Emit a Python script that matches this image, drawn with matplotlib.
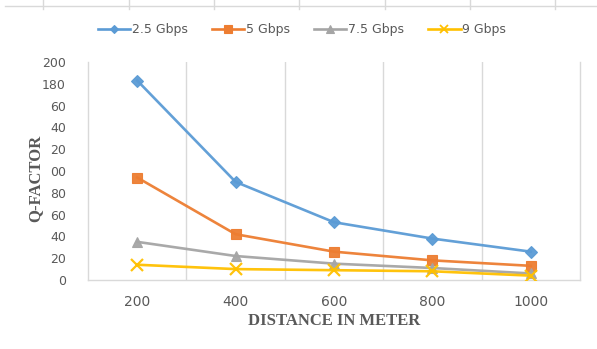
import matplotlib
matplotlib.use("Agg")
import matplotlib.pyplot as plt
from matplotlib.lines import Line2D

distances = ["200", "400", "600", "800", "1000"]
series_names = ["2.5 Gbps", "5 Gbps", "7.5 Gbps", "9 Gbps"]
q_25 = [183, 90, 53, 38, 26]
q_5 = [94, 42, 26, 18, 13]
q_75 = [35, 22, 15, 11, 6]
q_9 = [14, 10, 9, 8, 4]
y_ticks = [0, 20, 40, 60, 80, 100, 120, 140, 160, 180, 200]
y_tick_labels = ["0", "20", "40", "60", "80", "00", "20", "40", "60", "180", "200"]

colors = ["#5B9BD5", "#ED7D31", "#A5A5A5", "#FFC000"]
markers = ["D", "s", "^", "x"]
msizes = [6, 7, 7, 8]
text_gray = "#595959"
grid_gray = "#D9D9D9"

fig = plt.figure(figsize=(5.97, 3.49), dpi=100)
ax = fig.add_axes([88 / 597, 1 - 280 / 349, (580 - 88) / 597, (280 - 62) / 349])

x = list(range(len(distances)))
for vals, c, m, ms, name in zip([q_25, q_5, q_75, q_9], colors, markers, msizes, series_names):
    mew = 1.6 if m == "x" else 0.8
    ax.plot(x, vals, color=c, lw=1.9, marker=m, ms=ms, mfc=c, mec=c,
            mew=mew, label=name, zorder=3, alpha=0.95)

ax.set_xlim(-0.5, len(distances) - 0.5)
ax.set_ylim(0, 200)
ax.set_xticks(x)
ax.set_xticklabels(distances)
ax.set_xticks([i + 0.5 for i in range(len(distances) - 1)], minor=True)
ax.grid(True, which="minor", axis="x", color=grid_gray, lw=1.0)
ax.set_yticks(y_ticks)
ax.set_yticklabels(y_tick_labels)

for lbl in ax.get_xticklabels():
    lbl.set_fontsize(10)
    lbl.set_color(text_gray)
for lbl in ax.get_yticklabels():
    lbl.set_fontsize(9)
    lbl.set_color(text_gray)

ax.tick_params(axis="both", which="both", length=0)
ax.tick_params(axis="x", pad=11)
ax.tick_params(axis="y", pad=16)

for side in ["left", "bottom", "right"]:
    ax.spines[side].set_color(grid_gray)
    ax.spines[side].set_linewidth(1.0)
ax.spines["top"].set_visible(False)

ax.set_xlabel("DISTANCE IN METER", family="Liberation Serif", fontweight="bold",
              fontsize=12, color=text_gray, labelpad=3)
fig.text(35 / 597, 1 - 178 / 349, "Q-FACTOR", rotation=90, ha="center", va="center",
         family="Liberation Serif", fontweight="bold", fontsize=12, color=text_gray)

leg_handles = [Line2D([0], [0], color=c, lw=1.9, marker=m, ms=ms * 0.75, mfc=c, mec=c,
                      mew=(1.3 if m == "x" else 0.8))
               for c, m, ms in zip(colors, markers, msizes)]
leg = fig.legend(leg_handles, series_names, loc="center", ncol=4,
                 bbox_to_anchor=(302 / 597, 1 - 30 / 349), frameon=False,
                 fontsize=9, handlelength=2.6, handletextpad=0.15, columnspacing=1.9)
for t in leg.get_texts():
    t.set_color(text_gray)

# Thin ruled line with ticks along the top edge
fig.add_artist(Line2D([5 / 597, 1.0], [1 - 6 / 349, 1 - 6 / 349],
                      transform=fig.transFigure, color=grid_gray, lw=1.0))
for tx in [43, 129, 214, 299, 385, 470, 555]:
    fig.add_artist(Line2D([tx / 597, tx / 597], [1.0, 1 - 9 / 349],
                          transform=fig.transFigure, color=grid_gray, lw=1.0))

fig.savefig("out.png", dpi=100, facecolor="white")
